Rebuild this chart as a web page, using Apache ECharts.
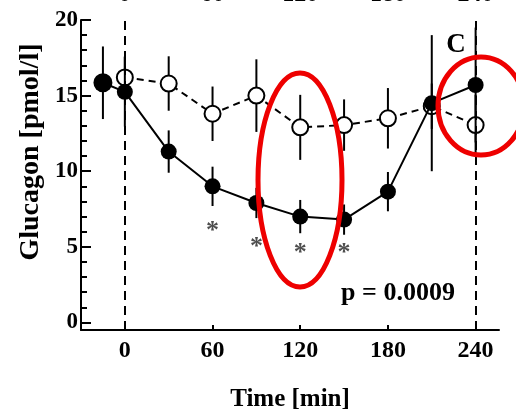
<!DOCTYPE html>
<html>
<head>
<meta charset="utf-8">
<script src="https://cdn.jsdelivr.net/npm/echarts@6/dist/echarts.min.js"></script>
<style>html,body{margin:0;padding:0;background:#fff}#c{width:516px;height:415px}</style>
</head>
<body>
<div id="c"></div>
<script>
// ---- data ----
const filledX   = [-15, 0, 30, 60, 90, 120, 150, 180, 210, 240];
const filledY   = [15.85, 15.25, 11.3, 9.0, 7.9, 7.0, 6.8, 8.65, 14.5, 15.7];
const filledErr = [2.4, 2.3, 1.4, 1.3, 1.0, 1.1, 1.0, 1.3, 4.5, 3.8];
const openX     = [0, 30, 60, 90, 120, 150, 180, 210, 240];
const openY     = [16.2, 15.8, 13.8, 15.0, 12.9, 13.05, 13.5, 14.3, 13.05];
const openErr   = [1.4, 1.8, 1.8, 2.4, 2.15, 1.7, 2.0, 1.5, 2.0];
const starX     = [60, 90, 120, 150];
const starY     = [6.0, 4.95, 4.6, 4.6];
const refLines  = [0, 240];
const xTicks    = [0, 60, 120, 180, 240];
const yTicks    = [0, 5, 10, 15, 20];
const yMinor    = [0,1,2,3,4,5,6,7,8,9,10,11,12,13,14,15,16,17,18,19,20];

const FONT = 'Liberation Serif';
const zip = (xs, ys) => xs.map((x, i) => [x, ys[i]]);
const zip3 = (xs, ys, es) => xs.map((x, i) => [x, ys[i], es[i]]);

const errRender = (params, api) => {
  const x = api.value(0), y = api.value(1), e = api.value(2);
  const a = api.coord([x, y + e]), b = api.coord([x, y - e]);
  return { type: 'line', shape: { x1: a[0], y1: a[1], x2: b[0], y2: b[1] },
           style: { stroke: '#000', lineWidth: 2 } };
};

const chart = echarts.init(document.getElementById('c'), null, { renderer: 'canvas' });
chart.setOption({
  animation: false,
  grid: { left: 81, right: 17, top: 20, bottom: 85, containLabel: false, outerBoundsMode: 'none' },
  xAxis: [{
    type: 'value', min: -30, max: 256, position: 'bottom',
    axisLine: { onZero: false, lineStyle: { color: '#000', width: 2 } },
    axisTick: { inside: true, length: 5, customValues: xTicks, lineStyle: { color: '#000', width: 2 } },
    axisLabel: { customValues: xTicks, color: '#000', fontFamily: FONT, fontWeight: 'bold', fontSize: 24, margin: 9 },
    splitLine: { show: false },
    name: 'Time [min]', nameLocation: 'middle', nameGap: 57,
    nameTextStyle: { color: '#000', fontFamily: FONT, fontWeight: 'bold', fontSize: 25 }
  }, {
    type: 'value', min: -30, max: 256, position: 'top',
    axisLine: { show: false, onZero: false }, axisTick: { show: false },
    axisLabel: { customValues: xTicks, color: '#000', fontFamily: FONT, fontWeight: 'bold', fontSize: 24, margin: 13 },
    splitLine: { show: false }
  }],
  yAxis: [{
    type: 'value', min: -0.5, max: 20, position: 'left',
    axisLine: { show: true, onZero: false, lineStyle: { color: '#000', width: 2 } },
    axisTick: { show: true, inside: true, length: 10, customValues: yTicks, lineStyle: { color: '#000', width: 2 } },
    axisLabel: { customValues: yTicks, color: '#000', fontFamily: FONT, fontWeight: 'bold', fontSize: 23, margin: 3 },
    splitLine: { show: false }
  }, {
    type: 'value', min: -0.5, max: 20, position: 'left',
    axisLine: { show: false, onZero: false },
    axisTick: { show: true, inside: true, length: 6, customValues: yMinor, lineStyle: { color: '#000', width: 2 } },
    axisLabel: { show: false },
    splitLine: { show: false }
  }],
  series: [
    { type: 'line', data: [], markLine: {
        silent: true, symbol: 'none', label: { show: false },
        lineStyle: { color: '#000', width: 2, type: [9, 6] },
        data: refLines.map(v => ({ xAxis: v }))
      } },
    { type: 'custom', renderItem: errRender, data: zip3(openX, openY, openErr), z: 3 },
    { type: 'line', data: zip(openX, openY), symbol: 'circle', symbolSize: 16,
      lineStyle: { color: '#000', width: 2, type: [7, 5] },
      itemStyle: { color: '#fff', borderColor: '#000', borderWidth: 2 }, z: 4 },
    { type: 'custom', renderItem: errRender, data: zip3(filledX, filledY, filledErr), z: 5 },
    { type: 'line', data: zip(filledX, filledY), symbol: 'circle',
      symbolSize: (v, p) => p.dataIndex === 0 ? 19 : 16,
      lineStyle: { color: '#000', width: 2 },
      itemStyle: { color: '#000', borderColor: '#000', borderWidth: 0 }, z: 6 },
    { type: 'scatter', data: zip(starX, starY), symbolSize: 1, itemStyle: { color: 'transparent' },
      label: { show: true, position: 'inside', formatter: '*', color: '#222', fontFamily: FONT, fontSize: 26, fontWeight: 'bold' } }
  ],
  graphic: [
    { type: 'text', x: 31, y: 152, rotation: Math.PI / 2,
      style: { text: 'Glucagon [pmol/l]', fill: '#000', font: 'bold 28px "Liberation Serif"', align: 'center', verticalAlign: 'middle' } },
    { type: 'text', x: 398, y: 293,
      style: { text: 'p = 0.0009', fill: '#000', font: 'bold 26px "Liberation Serif"', align: 'center', verticalAlign: 'middle' } },
    { type: 'text', x: 456, y: 45,
      style: { text: 'C', fill: '#000', font: 'bold 27px "Liberation Serif"', align: 'center', verticalAlign: 'middle' } },
    { type: 'ellipse', shape: { cx: 300, cy: 180, rx: 42, ry: 107 },
      style: { fill: 'none', stroke: '#ee0000', lineWidth: 5 }, z: 100 },
    { type: 'ellipse', shape: { cx: 481, cy: 106, rx: 43, ry: 49 },
      style: { fill: 'none', stroke: '#ee0000', lineWidth: 5 }, z: 100 }
  ]
});
</script>
</body>
</html>
